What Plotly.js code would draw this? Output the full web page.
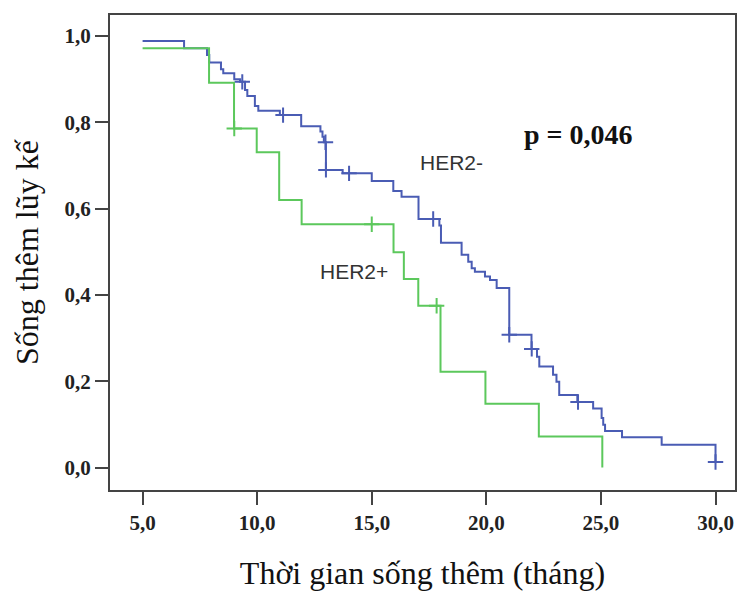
<!DOCTYPE html>
<html>
<head>
<meta charset="utf-8">
<script src="https://cdn.plot.ly/plotly-3.0.1.min.js"></script>
<style>
  html, body { margin: 0; padding: 0; background: #ffffff; }
  #chart { width: 738px; height: 592px; }
</style>
</head>
<body>
<div id="chart"></div>
<script>
// HER2- (blue) : step times and survival after each step
const herNegTimes = [5.0, 6.81, 7.81, 7.91, 8.42, 8.52, 9.00, 9.25, 9.47, 9.57, 9.90, 10.05, 10.99, 11.92, 12.76, 12.85, 12.91, 13.00, 13.73, 15.00, 15.94, 16.30, 17.04, 17.95, 18.02, 18.92, 19.21, 19.36, 19.50, 19.94, 20.16, 20.45, 21.00, 21.97, 22.21, 22.31, 22.91, 23.06, 23.18, 23.97, 24.66, 25.03, 25.10, 25.18, 25.92, 27.65, 30.0];
const herNegSurv  = [0.989, 0.972, 0.956, 0.939, 0.923, 0.914, 0.900, 0.894, 0.875, 0.861, 0.838, 0.827, 0.817, 0.791, 0.779, 0.767, 0.754, 0.690, 0.682, 0.664, 0.641, 0.628, 0.576, 0.561, 0.521, 0.493, 0.477, 0.462, 0.454, 0.443, 0.435, 0.416, 0.308, 0.275, 0.257, 0.234, 0.215, 0.199, 0.168, 0.152, 0.137, 0.115, 0.099, 0.085, 0.070, 0.053, 0.013];
const herNegCensTimes = [9.35, 11.13, 12.98, 13.0, 14.01, 17.68, 21.0, 21.98, 24.0, 30.0];
const herNegCensSurv  = [0.894, 0.817, 0.754, 0.690, 0.682, 0.576, 0.308, 0.275, 0.152, 0.013];

// HER2+ (green)
const herPosTimes = [5.0, 7.90, 8.99, 9.98, 10.96, 11.94, 15.95, 16.40, 17.03, 18.0, 19.96, 22.29, 25.06];
const herPosSurv  = [0.972, 0.892, 0.786, 0.731, 0.620, 0.564, 0.499, 0.437, 0.375, 0.222, 0.148, 0.072, 0.0];
const herPosCensTimes = [9.0, 15.0, 17.83];
const herPosCensSurv  = [0.786, 0.564, 0.375];

const xTicks = [5, 10, 15, 20, 25, 30];
const yTicks = [0, 0.2, 0.4, 0.6, 0.8, 1.0];

const blue = '#4a5cb4';
const green = '#5cc85c';

const traces = [
  { x: herNegTimes, y: herNegSurv, type: 'scatter', mode: 'lines', line: { shape: 'hv', color: blue, width: 2 }, name: 'HER2-', hoverinfo: 'x+y' },
  { x: herNegCensTimes, y: herNegCensSurv, type: 'scatter', mode: 'markers', marker: { symbol: 'cross-thin', size: 11, line: { color: blue, width: 2 } }, name: 'HER2- censored' },
  { x: herPosTimes, y: herPosSurv, type: 'scatter', mode: 'lines', line: { shape: 'hv', color: green, width: 2 }, name: 'HER2+', hoverinfo: 'x+y' },
  { x: herPosCensTimes, y: herPosCensSurv, type: 'scatter', mode: 'markers', marker: { symbol: 'cross-thin', size: 11, line: { color: green, width: 2 } }, name: 'HER2+ censored' }
];

const axisCommon = {
  showgrid: false, zeroline: false,
  showline: true, linecolor: '#444', linewidth: 2, mirror: true,
  ticks: 'outside', ticklen: 13, tickwidth: 2, tickcolor: '#444',
  tickformat: '.1f',
  tickfont: { family: 'Liberation Serif', size: 21, color: '#222', weight: 'bold' }
};

const layout = {
  width: 738, height: 592,
  margin: { l: 110, r: 3, t: 15, b: 102 },
  paper_bgcolor: '#ffffff', plot_bgcolor: '#ffffff',
  separators: ',.',
  showlegend: false,
  xaxis: Object.assign({}, axisCommon, {
    range: [3.578, 30.85], tickvals: xTicks,
    title: { text: 'Thời gian sống thêm (tháng)', font: { family: 'Liberation Serif', size: 32, color: '#111' }, standoff: 27 }
  }),
  yaxis: Object.assign({}, axisCommon, {
    range: [-0.052, 1.049], tickvals: yTicks,
    title: { text: 'Sống thêm lũy kế', font: { family: 'Liberation Serif', size: 32, color: '#111' }, standoff: 16 }
  }),
  annotations: [
    { x: 18.46, y: 0.706, xref: 'x', yref: 'y', text: 'HER2-', showarrow: false, font: { family: 'Liberation Sans', size: 21, color: '#333' } },
    { x: 14.22, y: 0.454, xref: 'x', yref: 'y', text: 'HER2+', showarrow: false, font: { family: 'Liberation Sans', size: 21, color: '#333' } },
    { x: 24.0, y: 0.773, xref: 'x', yref: 'y', text: 'p = 0,046', showarrow: false, font: { family: 'Liberation Serif', size: 28, color: '#111', weight: 'bold' } }
  ]
};

Plotly.newPlot('chart', traces, layout, { displayModeBar: false, staticPlot: true });
</script>
</body>
</html>
